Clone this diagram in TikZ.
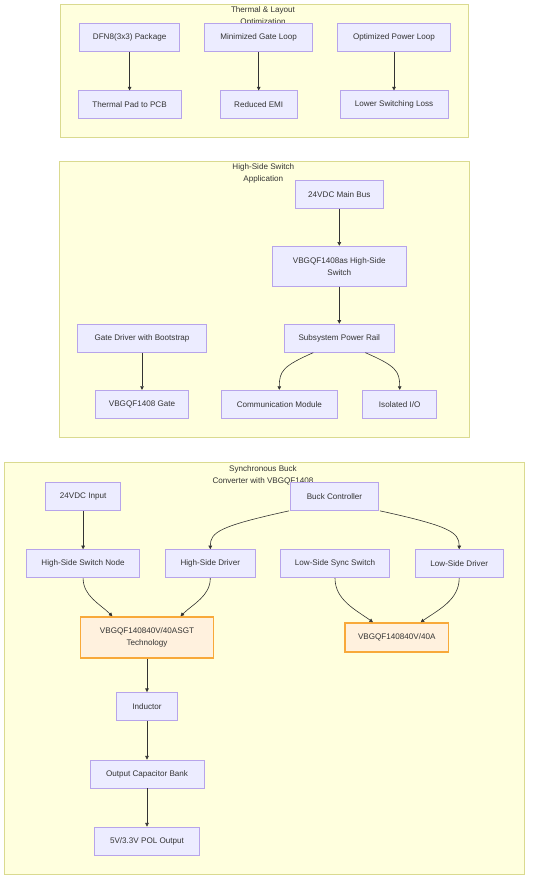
\documentclass[tikz,border=0pt]{standalone}
\usepackage{fontspec}
\setmainfont{Liberation Sans}
\usepackage{tikz}
\usetikzlibrary{arrows.meta}

\definecolor{grpfill}{HTML}{FFFFDE}
\definecolor{grpline}{HTML}{DADA90}
\definecolor{boxfill}{HTML}{ECECFF}
\definecolor{boxline}{HTML}{B7A4EA}
\definecolor{hotfill}{HTML}{FFF1DE}
\definecolor{hotline}{HTML}{F8A93A}
\definecolor{ink}{HTML}{333333}

\tikzset{
  grp/.style={draw=grpline, fill=grpfill, line width=0.9pt},
  grptitle/.style={align=center, inner sep=0pt, text=ink},
  box/.style={draw=boxline, fill=boxfill, line width=0.9pt, minimum height=28pt, inner sep=1pt, align=center, text=ink},
  hot/.style={box, draw=hotline, fill=hotfill, line width=1.3pt},
  arr/.style={draw=ink, line width=0.6pt, -{Triangle[length=3.6pt,width=3.6pt]}}
}

\begin{document}
\begin{tikzpicture}[x=1pt,y=-1pt,font=\fontsize{8.1}{12}\selectfont]
\useasboundingbox (0,0) rectangle (534,882);

\draw[grp] (60,4) rectangle (468.7,137);
\node[grptitle] (t1) at (263,16.3) {Thermal \& Layout\\Optimization};
\draw[grp] (59.3,161) rectangle (469.3,437.3);
\node[grptitle] (t2) at (263.3,173.3) {High-Side Switch\\Application};
\draw[grp] (4.1,462.5) rectangle (524.5,874.6);
\node[grptitle] (t3) at (263,475) {Synchronous Buck\\Converter with VBGQF1408};

\node[box, minimum width=100.4pt] (dfn) at (129.6,37.6) {DFN8(3x3) Package};
\node[box, minimum width=108pt] (mgl) at (258.7,37.6) {Minimized Gate Loop};
\node[box, minimum width=113pt] (opl) at (394,37.6) {Optimized Power Loop};
\node[box, minimum width=103pt] (tpp) at (129.6,104.9) {Thermal Pad to PCB};
\node[box, minimum width=77pt] (emi) at (258.7,104.9) {Reduced EMI};
\node[box, minimum width=108pt] (lsl) at (394,104.9) {Lower Switching Loss};
\draw[arr] (dfn) -- (tpp);
\draw[arr] (mgl) -- (emi);
\draw[arr] (opl) -- (lsl);

\node[box, minimum width=88pt] (bus) at (339.3,194.2) {24VDC Main Bus};
\node[box, minimum width=133.3pt, minimum height=40pt] (hss) at (339.3,266.2) {VBGQF1408as High-Side\\Switch};
\node[box, minimum width=129.4pt] (gdb) at (142,338.2) {Gate Driver with Bootstrap};
\node[box, minimum width=110pt] (spr) at (339.3,338.2) {Subsystem Power Rail};
\node[box, minimum width=93pt] (gate) at (142,404.3) {VBGQF1408 Gate};
\node[box, minimum width=116pt] (comm) at (279.3,404.3) {Communication Module};
\node[box, minimum width=74pt] (iso) at (399.7,404.3) {Isolated I/O};
\draw[arr] (bus) -- (hss);
\draw[arr] (hss) -- (spr);
\draw[arr] (gdb) -- (gate);
\draw[arr] ([xshift=-26pt]spr.south) .. controls (283,366) and (279.3,371) .. (comm.north);
\draw[arr] ([xshift=26pt]spr.south) .. controls (396,366) and (399.7,371) .. (iso.north);

\node[box, minimum width=75.6pt] (vin) at (83.1,496.4) {24VDC Input};
\node[box, minimum width=88pt] (bc) at (334.5,496.4) {Buck Controller};
\node[box, minimum width=112.7pt] (hsn) at (83.1,563.7) {High-Side Switch Node};
\node[box, minimum width=90.2pt] (hsd) at (210.3,563.7) {High-Side Driver};
\node[box, minimum width=109.3pt] (lss) at (335,563.7) {Low-Side Sync Switch};
\node[box, minimum width=88.5pt] (lsd) at (459.2,563.7) {Low-Side Driver};
\node[hot, minimum width=132.5pt, minimum height=41pt] (asgt) at (147,637.4) {VBGQF140840V/40ASGT\\Technology};
\node[hot, minimum width=103.6pt, minimum height=29pt] (q40) at (396.8,637.4) {VBGQF140840V/40A};
\node[box, minimum width=61.4pt] (ind) at (147,706.5) {Inductor};
\node[box, minimum width=114.1pt] (cap) at (147,774) {Output Capacitor Bank};
\node[box, minimum width=104.6pt] (pol) at (147,841) {5V/3.3V POL Output};
\draw[arr] (vin) -- (hsn);
\draw[arr] ([xshift=-1pt]bc.south west) .. controls (220,526) and (210.3,532) .. (hsd.north);
\draw[arr] ([xshift=1pt]bc.south east) .. controls (449,526) and (459.2,532) .. (lsd.north);
\draw[arr] (hsn.south) .. controls (83.1,596) and (100,604) .. ([xshift=-34.6pt]asgt.north);
\draw[arr] (hsd.south) .. controls (210.3,596) and (193,604) .. ([xshift=33.5pt]asgt.north);
\draw[arr] (lss.south) .. controls (335,600) and (356,610) .. ([xshift=-23.8pt]q40.north);
\draw[arr] (lsd.south) .. controls (459.2,600) and (438,610) .. ([xshift=23.8pt]q40.north);
\draw[arr] (asgt) -- (ind);
\draw[arr] (ind) -- (cap);
\draw[arr] (cap) -- (pol);
\end{tikzpicture}
\end{document}
